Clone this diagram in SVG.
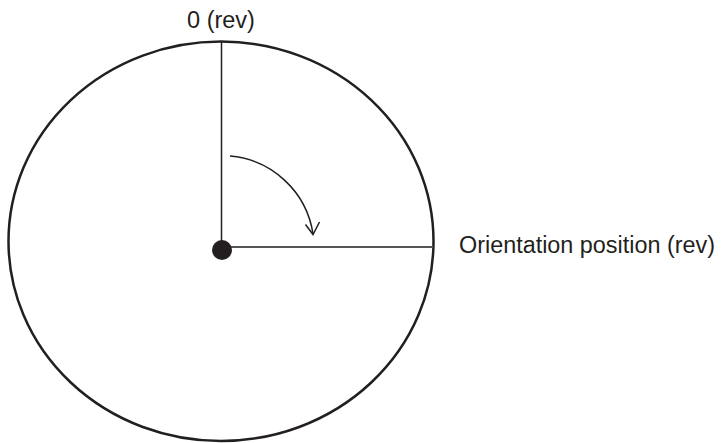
<svg xmlns="http://www.w3.org/2000/svg" width="721" height="443" viewBox="0 0 721 443">
<style>
.lbl{font-family:"Liberation Sans",Arial,sans-serif;font-size:23.5px;fill:#231f20}
.ln{fill:none;stroke:#231f20;stroke-width:1.5}
</style>
<rect width="721" height="443" fill="#ffffff"/>
<g id="circle">
<ellipse cx="221" cy="241.3" rx="212.5" ry="199.7" fill="none" stroke="#231f20" stroke-width="2.5"/>
</g>
<g id="connectors">
<line class="ln" x1="221.5" y1="41" x2="221.5" y2="250"/>
<line x1="222" y1="247" x2="433" y2="247" stroke="#555555" stroke-width="1.8"/>
<path class="ln" d="M230,156 A92,92 0 0 1 313,234"/>
<polyline class="ln" points="305.5,224.5 313,234.5 319.5,222"/>
</g>
<g id="center">
<circle cx="222" cy="250" r="10" fill="#231f20"/>
</g>
<g id="label-zero">
<text class="lbl" x="221" y="28" text-anchor="middle">0 (rev)</text>
</g>
<g id="label-orientation">
<text class="lbl" x="459" y="253" textLength="256" lengthAdjust="spacingAndGlyphs">Orientation position (rev)</text>
</g>
</svg>
